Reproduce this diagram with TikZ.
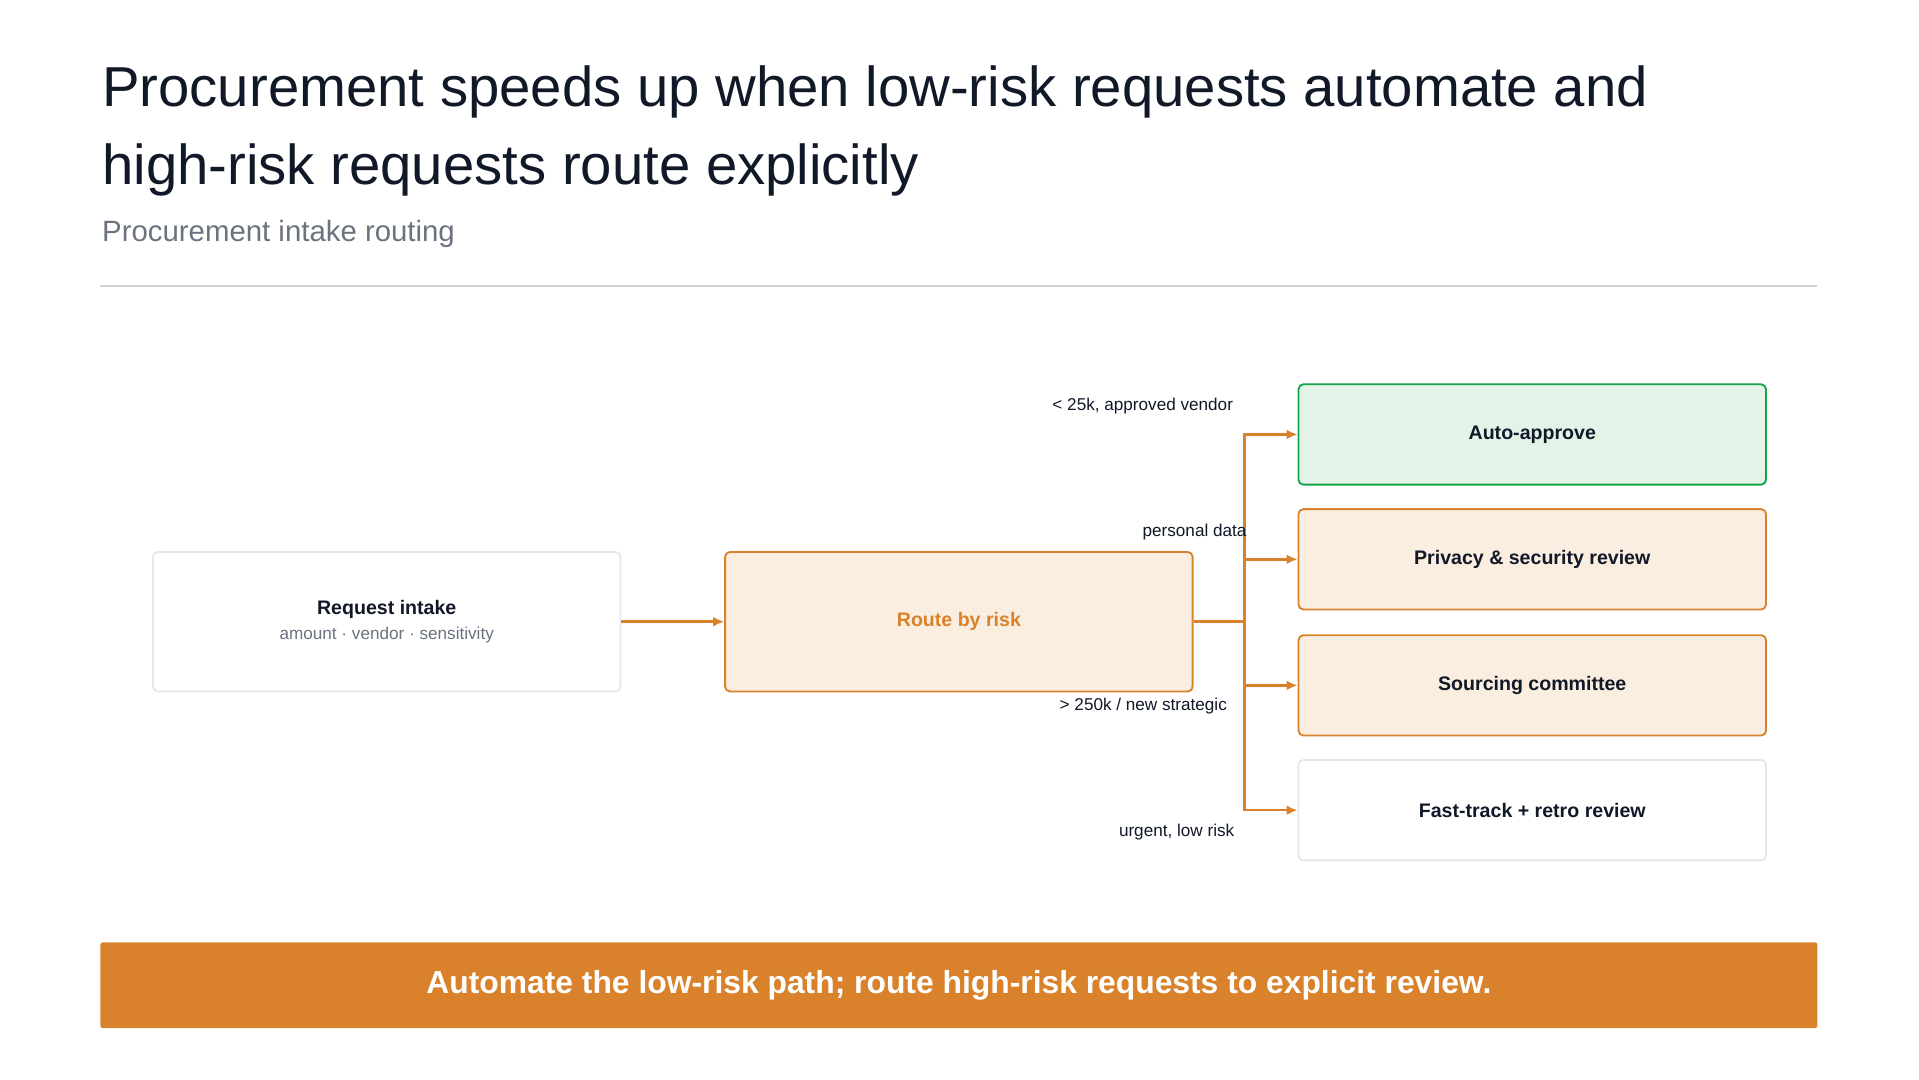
\documentclass[tikz,border=0pt]{standalone}
\usepackage{fontspec}
\setmainfont{Liberation Sans}
\usetikzlibrary{arrows.meta}
\definecolor{ink}{HTML}{111827}
\definecolor{sub}{HTML}{6B7280}
\definecolor{org}{HTML}{D9822B}
\definecolor{orgfill}{HTML}{FAEEE1}
\definecolor{grn}{HTML}{16A34A}
\definecolor{grnfill}{HTML}{E3F3E8}
\definecolor{gbord}{HTML}{E5E7EB}
\begin{document}
\begin{tikzpicture}[x=1pt,y=-1pt,
 box/.style={draw=gbord,line width=1.5pt,rounded corners=4pt,fill=white,minimum width=382pt,minimum height=82pt,text=ink,font=\bfseries\fontsize{16}{19}\selectfont,align=center},
 obox/.style={box,draw=org,fill=orgfill},
 conn/.style={draw=org,line width=2pt,-{Latex[length=9pt,width=8pt]}},
 lab/.style={font=\fontsize{14}{16}\selectfont,text=ink,anchor=east}]
\useasboundingbox (0,0) rectangle (1568,882);
\fill[white] (0,0) rectangle (1568,882);
\node[anchor=west,text=ink,font=\fontsize{46}{63}\selectfont,align=left] (title) at (80,107) {Procurement speeds up when low-risk requests automate and\\high-risk requests route explicitly};
\node[anchor=west,text=sub,font=\fontsize{24}{28}\selectfont] (subt) at (80,191) {Procurement intake routing};
\draw[gbord!80!gray,line width=1.5pt] (82,234) -- (1485,234);
\node[box,minimum height=114pt] (intake) at (316,508) {Request intake\\[2pt]{\mdseries\fontsize{14}{16}\selectfont\color{sub}amount · vendor · sensitivity}};
\node[obox,minimum height=114pt,text=org] (route) at (783.5,508) {Route by risk};
\node[box,draw=grn,fill=grnfill] (auto) at (1252,355) {Auto-approve};
\node[obox] (priv) at (1252,457) {Privacy \& security review};
\node[obox] (sour) at (1252,560) {Sourcing committee};
\node[box] (fast) at (1252,662) {Fast-track + retro review};
\draw[conn] (intake) -- (route);
\coordinate (tr) at (1017,508);
\draw[org,line width=2pt] (route.east) -- (tr);
\foreach \n in {auto,priv,sour,fast} \draw[conn] (tr) |- (\n.west);
\node[lab] (l1) at (1011,332) {< 25k, approved vendor};
\node[lab] (l2) at (1022,435) {personal data};
\node[lab] (l3) at (1006,577) {> 250k / new strategic};
\node[lab] (l4) at (1012,680) {urgent, low risk};
\node[fill=org,minimum width=1403pt,minimum height=70pt,text=white,font=\bfseries\fontsize{26}{30}\selectfont,rounded corners=2pt] (ban) at (783.5,805) {Automate the low-risk path; route high-risk requests to explicit review.};
\end{tikzpicture}
\end{document}
